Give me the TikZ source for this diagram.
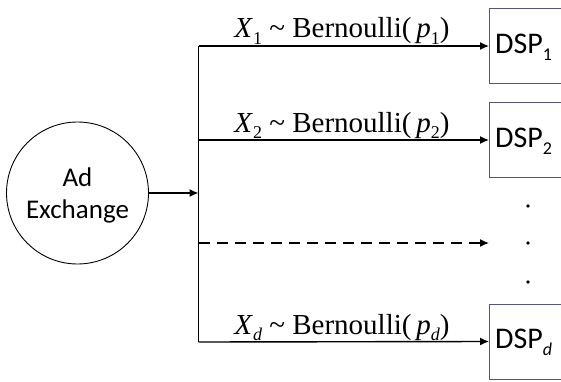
\documentclass[tikz,border=0pt]{standalone}
\usepackage{fontspec}
\setmainfont{Liberation Serif}
\newfontfamily\calib{Carlito}
\usetikzlibrary{arrows.meta}
\tikzset{
  conn/.style={line width=1.4pt,-{Latex[length=9pt,width=8pt]}},
  dspbox/.style={draw=black!45!blue!35!gray,line width=0.9pt,minimum width=86pt,minimum height=75pt,anchor=west,inner sep=0pt},
  dsptext/.style={font=\calib\fontsize{30}{36}\selectfont,anchor=west,inner sep=0pt},
  lbl/.style={font=\fontsize{29}{34}\selectfont,anchor=base,inner sep=0pt},
  dotmark/.style={fill=black,circle,inner sep=0pt,minimum size=3.6pt}
}
\newcommand{\sbs}[1]{\raisebox{-0.22em}{\fontsize{18}{18}\selectfont #1}}
\begin{document}
\begin{tikzpicture}[x=1pt,y=-1pt]
\useasboundingbox (0,0) rectangle (561,382);
\clip (0,0) rectangle (561,382);
\node[draw,circle,line width=0.9pt,minimum size=142pt,inner sep=0pt] (ax) at (77.5,193) {};
\node[font=\calib\fontsize{27}{32}\selectfont,align=center,anchor=base] (axt) at (77.5,218) {Ad\\Exchange};
\coordinate (jn) at (198.5,193);
\coordinate (top) at (198.5,46);
\coordinate (j2) at (198.5,140);
\coordinate (j3) at (198.5,243);
\coordinate (bot) at (198.5,342);
\coordinate (e3) at (489,243);
% boxes
\node[dspbox] (d1) at (489,46) {};
\node[dspbox] (d2) at (489,140) {};
\node[dspbox] (dd) at (489,341.5) {};
\node[dsptext] (t1) at (495,47) {DSP\sbs{1}};
\node[dsptext] (t2) at (495,141) {DSP\sbs{2}};
\node[dsptext] (td) at (495,342.5) {DSP\sbs{\textit{d}}};
% connectors
\draw[conn] (ax.east) -- (jn);
\draw[line width=1.4pt] (top) -- (bot);
\draw[conn] (top) -- (d1.west);
\draw[conn] (j2) -- (d2.west);
\draw[conn,dashed,dash pattern=on 11pt off 7pt] (j3) -- (e3);
\draw[conn] (bot) -- (dd.west);
% labels
\node[lbl] (l1) at (342,38) {\textit{X}\sbs{1} \textasciitilde\ Bernoulli(\,\textit{p}\sbs{1})};
\node[lbl] (l2) at (342,132) {\textit{X}\sbs{2} \textasciitilde\ Bernoulli(\,\textit{p}\sbs{2})};
\node[lbl] (ld) at (342,334) {\textit{X}\sbs{\textit{d}} \textasciitilde\ Bernoulli(\,\textit{p}\sbs{\textit{d}})};
% dots
\node[dotmark] (o1) at (528,206) {};
\node[dotmark] (o2) at (528,243) {};
\node[dotmark] (o3) at (528,282) {};
\end{tikzpicture}
\end{document}
